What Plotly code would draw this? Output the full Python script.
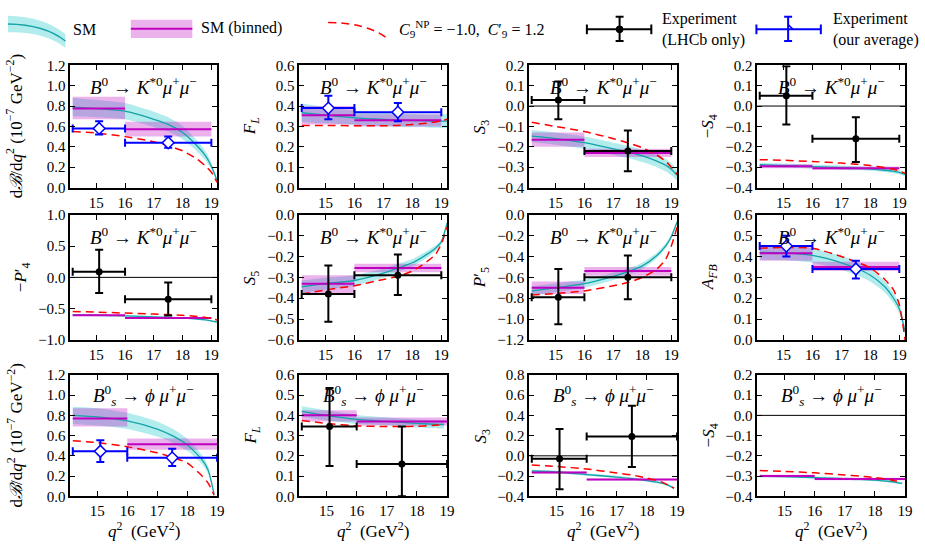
import plotly.graph_objects as go

# ---------------- data ----------------
Q2_B0 = [14.18, 15.0, 16.0, 17.0, 17.5, 18.0, 18.5, 18.8, 19.0, 19.2]
Q2_BS = [14.18, 15.0, 16.0, 17.0, 17.5, 18.0, 18.5, 18.7, 18.9]
BIN_EDGES = [14.18, 16.0, 19.0]
EXP_Q2 = [15.1, 17.5]

# dB/dq2  B0 -> K*0 mu mu
dbr_b0_sm     = [0.79, 0.775, 0.75, 0.67, 0.62, 0.54, 0.41, 0.31, 0.21, 0.07]
dbr_b0_sm_unc = [0.09, 0.085, 0.08, 0.075, 0.07, 0.065, 0.055, 0.045, 0.035, 0.015]
dbr_b0_np     = [0.55, 0.535, 0.50, 0.45, 0.41, 0.36, 0.28, 0.21, 0.15, 0.05]
dbr_b0_bin    = [0.775, 0.572]
dbr_b0_bin_lo = [0.67, 0.50]
dbr_b0_bin_hi = [0.89, 0.645]
dbr_b0_exp    = [0.58, 0.44]
dbr_b0_exp_lo = [0.52, 0.39]
dbr_b0_exp_hi = [0.65, 0.50]

# F_L  B0
fl_b0_sm     = [0.367, 0.355, 0.342, 0.334, 0.331, 0.329, 0.327, 0.326, 0.326, 0.326]
fl_b0_sm_unc = [0.045, 0.04, 0.035, 0.033, 0.032, 0.032, 0.032, 0.033, 0.034, 0.035]
fl_b0_np     = [0.305, 0.305, 0.303, 0.303, 0.305, 0.31, 0.316, 0.322, 0.327, 0.335]
fl_b0_bin    = [0.355, 0.33]
fl_b0_bin_lo = [0.31, 0.30]
fl_b0_bin_hi = [0.40, 0.36]
fl_b0_exp    = [0.39, 0.37]
fl_b0_exp_lo = [0.335, 0.325]
fl_b0_exp_hi = [0.45, 0.415]

# S3  B0
s3_b0_sm     = [-0.148, -0.16, -0.18, -0.21, -0.225, -0.245, -0.27, -0.29, -0.31, -0.34]
s3_b0_sm_unc = [0.03, 0.03, 0.03, 0.03, 0.03, 0.03, 0.03, 0.03, 0.03, 0.025]
s3_b0_np     = [-0.08, -0.10, -0.125, -0.16, -0.18, -0.205, -0.24, -0.27, -0.30, -0.335]
s3_b0_bin    = [-0.165, -0.23]
s3_b0_bin_lo = [-0.20, -0.25]
s3_b0_bin_hi = [-0.13, -0.21]
s3_b0_exp    = [0.03, -0.22]
s3_b0_exp_lo = [-0.065, -0.32]
s3_b0_exp_hi = [0.12, -0.12]

# -S4  B0
ms4_b0_sm     = [-0.288, -0.292, -0.297, -0.302, -0.305, -0.308, -0.315, -0.32, -0.325, -0.335]
ms4_b0_sm_unc = [0.01, 0.01, 0.01, 0.01, 0.01, 0.01, 0.01, 0.01, 0.01, 0.01]
ms4_b0_np     = [-0.263, -0.266, -0.272, -0.28, -0.285, -0.292, -0.302, -0.31, -0.318, -0.33]
ms4_b0_bin    = [-0.295, -0.305]
ms4_b0_bin_lo = [-0.305, -0.313]
ms4_b0_bin_hi = [-0.285, -0.297]
ms4_b0_exp    = [0.05, -0.16]
ms4_b0_exp_lo = [-0.09, -0.275]
ms4_b0_exp_hi = [0.195, -0.055]

# -P4'  B0
mp4_b0_sm     = [-0.60, -0.605, -0.615, -0.63, -0.64, -0.65, -0.665, -0.68, -0.695, -0.715]
mp4_b0_sm_unc = [0.012, 0.012, 0.012, 0.012, 0.012, 0.012, 0.012, 0.012, 0.012, 0.012]
mp4_b0_np     = [-0.545, -0.555, -0.57, -0.585, -0.595, -0.605, -0.625, -0.64, -0.66, -0.68]
mp4_b0_bin    = [-0.605, -0.65]
mp4_b0_bin_lo = [-0.615, -0.66]
mp4_b0_bin_hi = [-0.595, -0.64]
mp4_b0_exp    = [0.09, -0.35]
mp4_b0_exp_lo = [-0.25, -0.61]
mp4_b0_exp_hi = [0.44, -0.08]

# S5  B0
s5_b0_sm     = [-0.345, -0.33, -0.315, -0.28, -0.255, -0.23, -0.19, -0.16, -0.13, -0.04]
s5_b0_sm_unc = [0.03, 0.028, 0.025, 0.022, 0.02, 0.018, 0.016, 0.014, 0.012, 0.01]
s5_b0_np     = [-0.38, -0.36, -0.34, -0.31, -0.295, -0.27, -0.225, -0.19, -0.14, -0.06]
s5_b0_bin    = [-0.33, -0.255]
s5_b0_bin_lo = [-0.375, -0.275]
s5_b0_bin_hi = [-0.29, -0.235]
s5_b0_exp    = [-0.38, -0.29]
s5_b0_exp_lo = [-0.513, -0.385]
s5_b0_exp_hi = [-0.243, -0.19]

# P5'  B0
p5_b0_sm     = [-0.73, -0.70, -0.66, -0.59, -0.545, -0.49, -0.39, -0.30, -0.21, -0.07]
p5_b0_sm_unc = [0.045, 0.042, 0.04, 0.035, 0.032, 0.03, 0.027, 0.024, 0.02, 0.015]
p5_b0_np     = [-0.77, -0.755, -0.73, -0.68, -0.65, -0.60, -0.52, -0.43, -0.30, -0.12]
p5_b0_bin    = [-0.70, -0.54]
p5_b0_bin_lo = [-0.76, -0.585]
p5_b0_bin_hi = [-0.64, -0.50]
p5_b0_exp    = [-0.79, -0.60]
p5_b0_exp_lo = [-1.05, -0.81]
p5_b0_exp_hi = [-0.52, -0.39]

# A_FB  B0
afb_b0_sm     = [0.42, 0.418, 0.405, 0.37, 0.345, 0.31, 0.255, 0.20, 0.15, 0.04]
afb_b0_sm_unc = [0.035, 0.035, 0.035, 0.033, 0.032, 0.03, 0.028, 0.025, 0.022, 0.015]
afb_b0_np     = [0.44, 0.443, 0.44, 0.40, 0.375, 0.345, 0.29, 0.24, 0.17, 0.0]
afb_b0_bin    = [0.415, 0.35]
afb_b0_bin_lo = [0.38, 0.33]
afb_b0_bin_hi = [0.45, 0.375]
afb_b0_exp    = [0.45, 0.34]
afb_b0_exp_lo = [0.40, 0.295]
afb_b0_exp_hi = [0.50, 0.38]

# dB/dq2  Bs -> phi mu mu
dbr_bs_sm     = [0.80, 0.785, 0.745, 0.665, 0.60, 0.51, 0.36, 0.26, 0.02]
dbr_bs_sm_unc = [0.085, 0.085, 0.08, 0.075, 0.07, 0.06, 0.045, 0.035, 0.01]
dbr_bs_np     = [0.55, 0.53, 0.49, 0.43, 0.385, 0.33, 0.20, 0.13, 0.01]
dbr_bs_bin    = [0.77, 0.515]
dbr_bs_bin_lo = [0.69, 0.46]
dbr_bs_bin_hi = [0.87, 0.57]
dbr_bs_exp    = [0.445, 0.38]
dbr_bs_exp_lo = [0.34, 0.30]
dbr_bs_exp_hi = [0.555, 0.47]

# F_L  Bs
fl_bs_sm     = [0.42, 0.40, 0.38, 0.37, 0.365, 0.36, 0.357, 0.355, 0.355]
fl_bs_sm_unc = [0.025, 0.025, 0.022, 0.02, 0.02, 0.02, 0.02, 0.02, 0.02]
fl_bs_np     = [0.375, 0.36, 0.348, 0.345, 0.345, 0.346, 0.35, 0.352, 0.355]
fl_bs_bin    = [0.40, 0.37]
fl_bs_bin_lo = [0.37, 0.35]
fl_bs_bin_hi = [0.425, 0.39]
fl_bs_exp    = [0.345, 0.16]
fl_bs_exp_lo = [0.15, 0.0]
fl_bs_exp_hi = [0.535, 0.345]

# S3  Bs
s3_bs_sm     = [-0.15, -0.16, -0.185, -0.21, -0.225, -0.245, -0.27, -0.29, -0.32]
s3_bs_sm_unc = [0.012, 0.012, 0.012, 0.012, 0.012, 0.012, 0.012, 0.012, 0.012]
s3_bs_np     = [-0.09, -0.105, -0.13, -0.17, -0.19, -0.22, -0.26, -0.29, -0.32]
s3_bs_bin    = [-0.165, -0.235]
s3_bs_bin_lo = [-0.175, -0.243]
s3_bs_bin_hi = [-0.155, -0.227]
s3_bs_exp    = [-0.03, 0.19]
s3_bs_exp_lo = [-0.33, -0.11]
s3_bs_exp_hi = [0.265, 0.495]

# -S4  Bs
ms4_bs_sm     = [-0.30, -0.303, -0.308, -0.313, -0.316, -0.32, -0.327, -0.331, -0.336]
ms4_bs_sm_unc = [0.006, 0.006, 0.006, 0.006, 0.006, 0.006, 0.006, 0.006, 0.006]
ms4_bs_np     = [-0.273, -0.277, -0.284, -0.295, -0.30, -0.308, -0.318, -0.325, -0.333]
ms4_bs_bin    = [-0.30, -0.315]
ms4_bs_bin_lo = [-0.306, -0.321]
ms4_bs_bin_hi = [-0.294, -0.309]

XTICKS = [15, 16, 17, 18, 19]

# ---------------- style ----------------
FONT = "'Liberation Serif', 'Times New Roman', 'DejaVu Serif', serif"
C_BAND = "rgba(0,191,191,0.3)"
C_SM = "#13a3a8"
C_BIN_FILL = "rgba(191,0,191,0.3)"
C_BIN = "#bf00bf"
C_NP = "#ff0000"
C_BLUE = "#0000ff"
NP_DASH = "8px,5px"

W, H = 925, 546
COL_X = [(71, 219), (302, 451), (534, 683), (764, 913)]
ROW_Y = [(59, 185), (213, 342), (378, 503)]

DEC_B0 = "<i>B</i><sup>0</sup> → <i>K</i><sup>*0</sup><i>μ</i><sup>+</sup><i>μ</i><sup>−</sup>"
DEC_BS = "<i>B</i><sup>0</sup><sub><i>s</i></sub> → <i>ϕ</i> <i>μ</i><sup>+</sup><i>μ</i><sup>−</sup>"
T_DBR = "d<i>ℬ</i>/d<i>q</i><sup>2</sup> (10<sup>−7</sup> GeV<sup>−2</sup>)"
T_Q2 = "<i>q</i><sup>2</sup>  (GeV<sup>2</sup>)"

PANELS = [
    dict(r=0, c=0, q=Q2_B0, sm=dbr_b0_sm, unc=dbr_b0_sm_unc, np_=dbr_b0_np, b=dbr_b0_bin, blo=dbr_b0_bin_lo, bhi=dbr_b0_bin_hi,
         e=dbr_b0_exp, elo=dbr_b0_exp_lo, ehi=dbr_b0_exp_hi, kind="avg", yr=[0, 1.2], dt=0.2, yt=T_DBR, dec=DEC_B0, zero=False),
    dict(r=0, c=1, q=Q2_B0, sm=fl_b0_sm, unc=fl_b0_sm_unc, np_=fl_b0_np, b=fl_b0_bin, blo=fl_b0_bin_lo, bhi=fl_b0_bin_hi,
         e=fl_b0_exp, elo=fl_b0_exp_lo, ehi=fl_b0_exp_hi, kind="avg", yr=[0, 0.6], dt=0.1, yt="<i>F<sub>L</sub></i>", dec=DEC_B0, zero=False),
    dict(r=0, c=2, q=Q2_B0, sm=s3_b0_sm, unc=s3_b0_sm_unc, np_=s3_b0_np, b=s3_b0_bin, blo=s3_b0_bin_lo, bhi=s3_b0_bin_hi,
         e=s3_b0_exp, elo=s3_b0_exp_lo, ehi=s3_b0_exp_hi, kind="lhcb", yr=[-0.4, 0.2], dt=0.1, yt="<i>S</i><sub>3</sub>", dec=DEC_B0, zero=True),
    dict(r=0, c=3, q=Q2_B0, sm=ms4_b0_sm, unc=ms4_b0_sm_unc, np_=ms4_b0_np, b=ms4_b0_bin, blo=ms4_b0_bin_lo, bhi=ms4_b0_bin_hi,
         e=ms4_b0_exp, elo=ms4_b0_exp_lo, ehi=ms4_b0_exp_hi, kind="lhcb", yr=[-0.4, 0.2], dt=0.1, yt="−<i>S</i><sub>4</sub>", dec=DEC_B0, zero=True),
    dict(r=1, c=0, q=Q2_B0, sm=mp4_b0_sm, unc=mp4_b0_sm_unc, np_=mp4_b0_np, b=mp4_b0_bin, blo=mp4_b0_bin_lo, bhi=mp4_b0_bin_hi,
         e=mp4_b0_exp, elo=mp4_b0_exp_lo, ehi=mp4_b0_exp_hi, kind="lhcb", yr=[-1.0, 1.0], dt=0.5, yt="−<i>P</i>′<sub>4</sub>", dec=DEC_B0, zero=True),
    dict(r=1, c=1, q=Q2_B0, sm=s5_b0_sm, unc=s5_b0_sm_unc, np_=s5_b0_np, b=s5_b0_bin, blo=s5_b0_bin_lo, bhi=s5_b0_bin_hi,
         e=s5_b0_exp, elo=s5_b0_exp_lo, ehi=s5_b0_exp_hi, kind="lhcb", yr=[-0.6, 0.0], dt=0.1, yt="<i>S</i><sub>5</sub>", dec=DEC_B0, zero=False),
    dict(r=1, c=2, q=Q2_B0, sm=p5_b0_sm, unc=p5_b0_sm_unc, np_=p5_b0_np, b=p5_b0_bin, blo=p5_b0_bin_lo, bhi=p5_b0_bin_hi,
         e=p5_b0_exp, elo=p5_b0_exp_lo, ehi=p5_b0_exp_hi, kind="lhcb", yr=[-1.2, 0.0], dt=0.2, yt="<i>P</i>′<sub>5</sub>", dec=DEC_B0, zero=False),
    dict(r=1, c=3, q=Q2_B0, sm=afb_b0_sm, unc=afb_b0_sm_unc, np_=afb_b0_np, b=afb_b0_bin, blo=afb_b0_bin_lo, bhi=afb_b0_bin_hi,
         e=afb_b0_exp, elo=afb_b0_exp_lo, ehi=afb_b0_exp_hi, kind="avg", yr=[0, 0.6], dt=0.1, yt="<i>A<sub>FB</sub></i>", dec=DEC_B0, zero=False),
    dict(r=2, c=0, q=Q2_BS, sm=dbr_bs_sm, unc=dbr_bs_sm_unc, np_=dbr_bs_np, b=dbr_bs_bin, blo=dbr_bs_bin_lo, bhi=dbr_bs_bin_hi,
         e=dbr_bs_exp, elo=dbr_bs_exp_lo, ehi=dbr_bs_exp_hi, kind="avg", yr=[0, 1.2], dt=0.2, yt=T_DBR, dec=DEC_BS, zero=False),
    dict(r=2, c=1, q=Q2_BS, sm=fl_bs_sm, unc=fl_bs_sm_unc, np_=fl_bs_np, b=fl_bs_bin, blo=fl_bs_bin_lo, bhi=fl_bs_bin_hi,
         e=fl_bs_exp, elo=fl_bs_exp_lo, ehi=fl_bs_exp_hi, kind="lhcb", yr=[0, 0.6], dt=0.1, yt="<i>F<sub>L</sub></i>", dec=DEC_BS, zero=False),
    dict(r=2, c=2, q=Q2_BS, sm=s3_bs_sm, unc=s3_bs_sm_unc, np_=s3_bs_np, b=s3_bs_bin, blo=s3_bs_bin_lo, bhi=s3_bs_bin_hi,
         e=s3_bs_exp, elo=s3_bs_exp_lo, ehi=s3_bs_exp_hi, kind="lhcb", yr=[-0.4, 0.8], dt=0.2, yt="<i>S</i><sub>3</sub>", dec=DEC_BS, zero=True),
    dict(r=2, c=3, q=Q2_BS, sm=ms4_bs_sm, unc=ms4_bs_sm_unc, np_=ms4_bs_np, b=ms4_bs_bin, blo=ms4_bs_bin_lo, bhi=ms4_bs_bin_hi,
         e=None, elo=None, ehi=None, kind=None, yr=[-0.4, 0.2], dt=0.1, yt="−<i>S</i><sub>4</sub>", dec=DEC_BS, zero=True),
]

fig = go.Figure()
layout = dict(
    width=W, height=H, margin=dict(l=0, r=0, t=0, b=0),
    paper_bgcolor="white", plot_bgcolor="white", showlegend=False,
    font=dict(family=FONT, size=15, color="black"),
)
annotations = []
shapes = []

for i, p in enumerate(PANELS, start=1):
    sfx = "" if i == 1 else str(i)
    xa, ya = "x" + sfx, "y" + sfx
    x0, x1 = COL_X[p["c"]]
    y0, y1 = ROW_Y[p["r"]]
    pw, ph = x1 - x0, y1 - y0
    bs = p["r"] == 2
    xr = [14.1, 19.0] if bs else [14.1, 19.2]
    axis_common = dict(showline=True, linewidth=2, linecolor="black", mirror="allticks",
                       ticks="inside", ticklen=5, tickwidth=1.3, tickcolor="black",
                       showgrid=False, zeroline=False, tickfont=dict(family=FONT, size=15, color="black"))
    layout["xaxis" + sfx] = dict(domain=[x0 / W, x1 / W], anchor=ya, range=xr,
                                 tickvals=XTICKS, **axis_common)
    layout["yaxis" + sfx] = dict(domain=[1 - y1 / H, 1 - y0 / H], anchor=xa, range=p["yr"],
                                 dtick=p["dt"], tick0=0, tickformat=".1f", **axis_common)
    q = p["q"]
    lo = [s - u for s, u in zip(p["sm"], p["unc"])]
    hi = [s + u for s, u in zip(p["sm"], p["unc"])]
    # SM band
    fig.add_trace(go.Scatter(x=q, y=lo, mode="lines", line=dict(width=0, shape="spline", smoothing=0.6),
                             hoverinfo="skip", xaxis=xa, yaxis=ya))
    fig.add_trace(go.Scatter(x=q, y=hi, mode="lines", fill="tonexty", fillcolor=C_BAND,
                             line=dict(width=0, shape="spline", smoothing=0.6), hoverinfo="skip",
                             xaxis=xa, yaxis=ya))
    # binned boxes
    for k in range(len(p["b"])):
        a, bb = BIN_EDGES[k], BIN_EDGES[k + 1]
        fig.add_trace(go.Scatter(x=[a, bb, bb, a, a],
                                 y=[p["blo"][k], p["blo"][k], p["bhi"][k], p["bhi"][k], p["blo"][k]],
                                 mode="lines", fill="toself", fillcolor=C_BIN_FILL, line=dict(width=0),
                                 hoverinfo="skip", xaxis=xa, yaxis=ya))
    # SM line
    fig.add_trace(go.Scatter(x=q, y=p["sm"], mode="lines",
                             line=dict(color=C_SM, width=1.3, shape="spline", smoothing=0.6),
                             xaxis=xa, yaxis=ya))
    # binned lines
    bx, by = [], []
    for k in range(len(p["b"])):
        bx += [BIN_EDGES[k], BIN_EDGES[k + 1], None]
        by += [p["b"][k], p["b"][k], None]
    fig.add_trace(go.Scatter(x=bx, y=by, mode="lines", line=dict(color=C_BIN, width=2),
                             xaxis=xa, yaxis=ya))
    # NP
    fig.add_trace(go.Scatter(x=q, y=p["np_"], mode="lines",
                             line=dict(color=C_NP, width=1.5, dash=NP_DASH, shape="spline", smoothing=0.6),
                             xaxis=xa, yaxis=ya))
    # experiment
    if p["kind"]:
        col = "black" if p["kind"] == "lhcb" else C_BLUE
        ex_p = [BIN_EDGES[k + 1] - EXP_Q2[k] for k in range(2)]
        ex_m = [EXP_Q2[k] - BIN_EDGES[k] for k in range(2)]
        ey_p = [h - v for h, v in zip(p["ehi"], p["e"])]
        ey_m = [v - l for l, v in zip(p["elo"], p["e"])]
        if p["kind"] == "lhcb":
            marker = dict(symbol="circle", size=7, color="black")
        else:
            marker = dict(symbol="diamond", size=9, color="white", line=dict(color=C_BLUE, width=1.5))
        fig.add_trace(go.Scatter(
            x=EXP_Q2, y=p["e"], mode="markers", marker=marker,
            error_x=dict(type="data", array=ex_p, arrayminus=ex_m, color=col, thickness=2, width=4),
            error_y=dict(type="data", array=ey_p, arrayminus=ey_m, color=col, thickness=2, width=4),
            xaxis=xa, yaxis=ya))
    if p["zero"]:
        shapes.append(dict(type="line", xref=f"{xa} domain", yref=ya, x0=0, x1=1, y0=0, y1=0,
                           line=dict(color="black", width=1), layer="below"))
    # decay label
    annotations.append(dict(text=p["dec"], xref=f"{xa} domain", yref=f"{ya} domain", x=0.5, y=0.83,
                            showarrow=False, xanchor="center", yanchor="middle",
                            font=dict(family=FONT, size=19, color="black")))
    # y-axis title (fixed offset from the axis, like the reference)
    off = 56 if p["yt"] == T_DBR else 48
    annotations.append(dict(text=p["yt"], xref=f"{xa} domain", yref=f"{ya} domain", x=-off / pw, y=0.5,
                            showarrow=False, xanchor="center", yanchor="middle", textangle=-90,
                            font=dict(family=FONT, size=17, color="black")))
    # x-axis title (bottom row)
    if bs:
        annotations.append(dict(text=T_Q2, xref=f"{xa} domain", yref=f"{ya} domain", x=0.5, y=-21 / ph,
                                showarrow=False, xanchor="center", yanchor="top",
                                font=dict(family=FONT, size=17, color="black")))

# ---------------- legend (decoration, paper coordinates) ----------------
def px(x):
    return x / W


def py(y):
    return 1 - y / H


def path(pts, close=False):
    s = ""
    for cmd, coords in pts:
        s += cmd + " " + " ".join(f"{px(a):.5f},{py(b):.5f}" for a, b in coords) + " "
    return s + ("Z" if close else "")


shapes.append(dict(type="path", xref="paper", yref="paper",
                   path=path([("M", [(8, 8)]), ("Q", [(45, 9), (66, 27)]), ("L", [(66, 41)]),
                              ("Q", [(45, 24), (8, 25)])], close=True),
                   fillcolor=C_BAND, line=dict(width=0)))
shapes.append(dict(type="path", xref="paper", yref="paper",
                   path=path([("M", [(8, 16.5)]), ("Q", [(45, 17), (66, 34)])]),
                   line=dict(color=C_SM, width=1.3)))
shapes.append(dict(type="rect", xref="paper", yref="paper", x0=px(132), x1=px(194), y0=py(31), y1=py(12),
                   fillcolor=C_BIN_FILL, line=dict(width=0)))
shapes.append(dict(type="line", xref="paper", yref="paper", x0=px(132), x1=px(194), y0=py(21.5), y1=py(21.5),
                   line=dict(color=C_BIN, width=2)))
shapes.append(dict(type="path", xref="paper", yref="paper",
                   path=path([("M", [(331, 15)]), ("Q", [(368, 15), (389, 30)])]),
                   line=dict(color=C_NP, width=1.5, dash=NP_DASH)))
for (xl, xc, xr_, col) in [(592, 625, 657, "black"), (763, 795, 828, C_BLUE)]:
    shapes.append(dict(type="line", xref="paper", yref="paper", x0=px(xl), x1=px(xr_), y0=py(22), y1=py(22),
                       line=dict(color=col, width=2)))
    shapes.append(dict(type="line", xref="paper", yref="paper", x0=px(xc), x1=px(xc), y0=py(9), y1=py(34),
                       line=dict(color=col, width=2)))
    for xx in (xl, xr_):
        shapes.append(dict(type="line", xref="paper", yref="paper", x0=px(xx), x1=px(xx), y0=py(17), y1=py(27),
                           line=dict(color=col, width=2)))
    for yy in (9, 34):
        shapes.append(dict(type="line", xref="paper", yref="paper", x0=px(xc - 4), x1=px(xc + 4), y0=py(yy),
                           y1=py(yy), line=dict(color=col, width=2)))
shapes.append(dict(type="circle", xref="paper", yref="paper", x0=px(621.5), x1=px(628.5), y0=py(25.5),
                   y1=py(18.5), fillcolor="black", line=dict(color="black", width=1)))
shapes.append(dict(type="path", xref="paper", yref="paper",
                   path=path([("M", [(795, 17)]), ("L", [(800, 22), (795, 27), (790, 22)])], close=True),
                   fillcolor="white", line=dict(color=C_BLUE, width=1.5)))

leg_font = dict(family=FONT, size=16, color="black")
annotations += [
    dict(text="SM", xref="paper", yref="paper", x=px(72), y=py(22), xanchor="left", yanchor="middle",
         align="left", showarrow=False, font=leg_font),
    dict(text="SM (binned)", xref="paper", yref="paper", x=px(201), y=py(21), xanchor="left",
         yanchor="middle", align="left", showarrow=False, font=leg_font),
    dict(text="<i>C</i><sub>9</sub><sup>NP</sup> = −1.0,  <i>C</i>′<sub>9</sub> = 1.2", xref="paper",
         yref="paper", x=px(551), y=py(22), xanchor="right", yanchor="middle", align="right",
         showarrow=False, font=leg_font),
    dict(text="Experiment<br>(LHCb only)", xref="paper", yref="paper", x=px(666), y=py(22), xanchor="left",
         yanchor="middle", align="left", showarrow=False, font=leg_font),
    dict(text="Experiment<br>(our average)", xref="paper", yref="paper", x=px(838), y=py(22),
         xanchor="left", yanchor="middle", align="left", showarrow=False, font=leg_font),
]

layout["annotations"] = annotations
layout["shapes"] = shapes
fig.update_layout(**layout)
fig.write_html("out.html", config={"displayModeBar": False},
               post_script="document.body.style.margin='0px';document.body.style.overflow='hidden';")
